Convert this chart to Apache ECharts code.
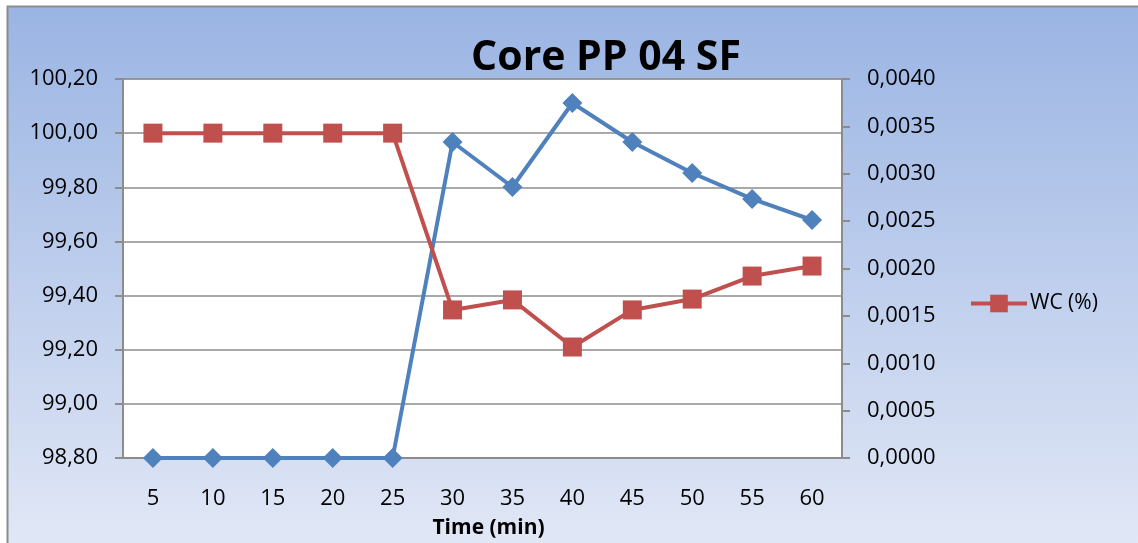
<!DOCTYPE html>
<html><head><meta charset="utf-8">
<script src="https://cdn.jsdelivr.net/npm/echarts@6/dist/echarts.min.js"></script>
<style>html,body{margin:0;padding:0;background:#fff}#c{width:1138px;height:543px}</style>
</head><body><div id="c"></div>
<script>
const categories = ['5','10','15','20','25','30','35','40','45','50','55','60'];
const wcValues = [100.00,100.00,100.00,100.00,100.00,99.347,99.384,99.21,99.347,99.387,99.472,99.509];
const secondValues = [0,0,0,0,0,0.003335,0.00286,0.003747,0.003335,0.003008,0.002734,0.002512];
const leftTicks = {min:98.8, max:100.2, interval:0.2};
const rightTicks = {min:0, max:0.004, interval:0.0005};

const font = 'Open Sans, Noto Sans, sans-serif';
const chart = echarts.init(document.getElementById('c'));
chart.setOption({
  backgroundColor: '#fff',
  graphic: [{
    type:'rect', z:-10, silent:true,
    shape:{x:7.5,y:6.5,width:1140,height:545},
    style:{fill:new echarts.graphic.LinearGradient(0,0,0,1,[{offset:0,color:'#9AB4E3'},{offset:1,color:'#E2E8F6'}]),stroke:'#8c8c8c',lineWidth:2}
  }],
  title: {text:'Core PP 04 SF', left:601, top:33, textAlign:'center',
    textStyle:{fontFamily:font,fontSize:41,fontWeight:'bold',color:'#000'}},
  legend: {data:['WC (%)'], left:964, top:288, itemWidth:56, itemHeight:22, itemGap:4,
    lineStyle:{width:4},
    textStyle:{fontFamily:font,fontSize:21,color:'#000',padding:[0,0,0,-2]}},
  grid: {left:123, right:296, top:79, bottom:85, outerBoundsMode:'none', show:true, backgroundColor:'#fff', borderColor:'#8c8c8c', borderWidth:1},
  xAxis: {type:'category', data:categories, boundaryGap:true,
    name:'Time (min)', nameLocation:'middle', nameGap:60,
    nameTextStyle:{fontFamily:font,fontSize:21,fontWeight:'bold',color:'#000',padding:[0,0,0,12]},
    axisLine:{lineStyle:{color:'#8c8c8c',width:2}}, axisTick:{show:false},
    axisLabel:{fontFamily:font,fontSize:22,color:'#000',margin:30}},
  yAxis: [{type:'value', min:leftTicks.min, max:leftTicks.max, interval:leftTicks.interval,
    axisLine:{show:true,lineStyle:{color:'#8c8c8c',width:2}},
    axisTick:{show:true,length:8,lineStyle:{color:'#8c8c8c',width:2}},
    splitLine:{lineStyle:{color:'#8c8c8c',width:1.5}},
    axisLabel:{fontFamily:font,fontSize:22,color:'#000',margin:25,formatter:v=>v.toFixed(2).replace('.',',')}},
   {type:'value', min:rightTicks.min, max:rightTicks.max, interval:rightTicks.interval, position:'right',
    axisLine:{show:true,lineStyle:{color:'#8c8c8c',width:2}},
    axisTick:{show:true,length:8,lineStyle:{color:'#8c8c8c',width:2}},
    splitLine:{show:false},
    axisLabel:{fontFamily:font,fontSize:22,color:'#000',margin:25,formatter:v=>v.toFixed(4).replace('.',',')}}],
  series: [
    {name:'second', type:'line', yAxisIndex:1, data:secondValues, symbol:'diamond', symbolSize:20,
     lineStyle:{color:'#4F81BD',width:4}, itemStyle:{color:'#4F81BD'}, z:2},
    {name:'WC (%)', type:'line', yAxisIndex:0, data:wcValues, symbol:'rect', symbolSize:19,
     lineStyle:{color:'#C0504D',width:4}, itemStyle:{color:'#C0504D'}, z:3}
  ],
  animation:false
});
</script></body></html>
